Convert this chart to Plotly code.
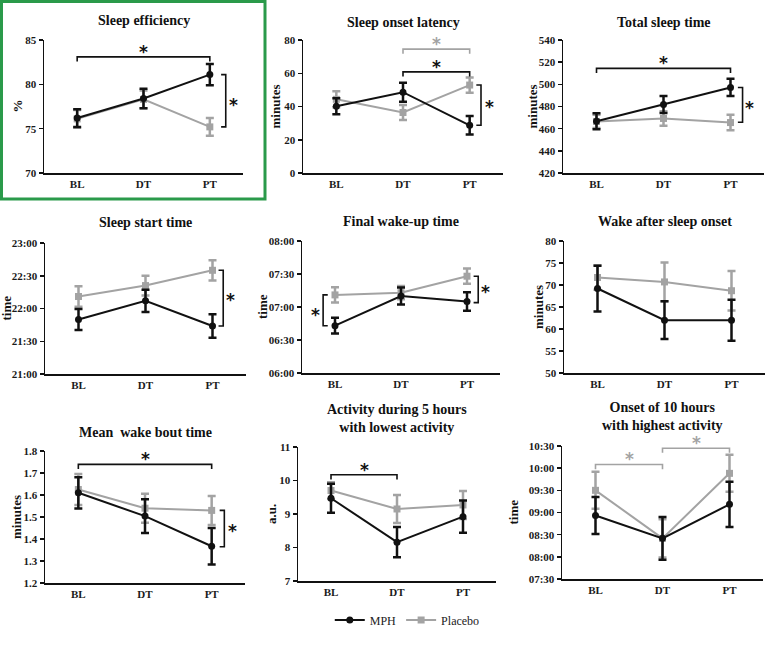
import plotly.graph_objects as go

W, H = 767, 651

categories = ["BL", "DT", "PT"]
x_pos = [0, 1, 2]

# ---- data (mean, error) ----
# 1 Sleep efficiency (%)
se_mph = [76.2, 78.4, 81.1]
se_mph_err = [1.0, 1.1, 1.2]
se_pla = [76.1, 78.3, 75.2]
se_pla_err = [1.0, 1.0, 1.0]
# 2 Sleep onset latency (minutes)
sol_mph = [40.2, 48.6, 28.7]
sol_mph_err = [4.8, 5.7, 5.6]
sol_pla = [44.3, 36.4, 52.9]
sol_pla_err = [4.8, 4.5, 4.6]
# 3 Total sleep time (minutes)
tst_mph = [466.7, 481.8, 497.2]
tst_mph_err = [7.2, 7.7, 7.8]
tst_pla = [466.5, 469.2, 465.5]
tst_pla_err = [6.0, 6.5, 7.0]
# 4 Sleep start time (clock time, error in minutes)
sst_mph = ["21:50", "22:07", "21:44"]
sst_mph_err = [9.6, 10.2, 10.8]
sst_pla = ["22:11", "22:21", "22:35"]
sst_pla_err = [9.3, 9.0, 9.3]
# 5 Final wake-up time
fwt_mph = ["06:43", "07:10", "07:05"]
fwt_mph_err = [7.2, 7.8, 8.4]
fwt_pla = ["07:11", "07:13", "07:28"]
fwt_pla_err = [6.9, 6.0, 6.9]
# 6 Wake after sleep onset (minutes)
waso_mph = [69.2, 62.0, 62.0]
waso_mph_err = [5.2, 4.3, 4.65]
waso_pla = [71.7, 70.7, 68.7]
waso_pla_err = [2.8, 4.4, 4.5]
# 7 Mean wake bout time (minutes)
wbt_mph = [1.61, 1.504, 1.367]
wbt_mph_err = [0.071, 0.077, 0.083]
wbt_pla = [1.625, 1.54, 1.53]
wbt_pla_err = [0.07, 0.066, 0.066]
# 8 Activity during L5 (a.u.)
l5_mph = [9.47, 8.16, 8.92]
l5_mph_err = [0.43, 0.45, 0.48]
l5_pla = [9.70, 9.15, 9.27]
l5_pla_err = [0.25, 0.42, 0.42]
# 9 Onset of M10 (clock time)
m10_mph = ["08:56", "08:25", "09:11"]
m10_mph_err = [25, 29, 30.5]
m10_pla = ["09:30", "08:25", "09:53"]
m10_pla_err = [25, 26, 25]

titles = ["Sleep efficiency", "Sleep onset latency", "Total sleep time",
          "Sleep start time", "Final wake-up time", "Wake after sleep onset",
          "Mean  wake bout time", "Activity during 5 hours<br>with lowest activity",
          "Onset of 10 hours<br>with highest activity"]
ytitles = ["%", "minutes", "minutes", "time", "time", "minutes", "minutes", "a.u.", "time"]

ticks_se = [70, 75, 80, 85]
ticks_sol = [0, 20, 40, 60, 80]
ticks_tst = [420, 440, 460, 480, 500, 520, 540]
ticks_sst = ["21:00", "21:30", "22:00", "22:30", "23:00"]
ticks_fwt = ["06:00", "06:30", "07:00", "07:30", "08:00"]
ticks_waso = [50, 55, 60, 65, 70, 75, 80]
ticks_wbt = [1.2, 1.3, 1.4, 1.5, 1.6, 1.7, 1.8]
ticks_l5 = [7, 8, 9, 10, 11]
ticks_m10 = ["07:30", "08:00", "08:30", "09:00", "09:30", "10:00", "10:30"]


def hrs(t):
    h, m = t.split(":")
    return int(h) + int(m) / 60.0


def hrs_list(lst):
    return [hrs(t) for t in lst]


def err_h(lst):
    return [e / 60.0 for e in lst]


panels = [
    dict(mph=se_mph, me=se_mph_err, pla=se_pla, pe=se_pla_err, tv=ticks_se, tt=[str(v) for v in ticks_se]),
    dict(mph=sol_mph, me=sol_mph_err, pla=sol_pla, pe=sol_pla_err, tv=ticks_sol, tt=[str(v) for v in ticks_sol]),
    dict(mph=tst_mph, me=tst_mph_err, pla=tst_pla, pe=tst_pla_err, tv=ticks_tst, tt=[str(v) for v in ticks_tst]),
    dict(mph=hrs_list(sst_mph), me=err_h(sst_mph_err), pla=hrs_list(sst_pla), pe=err_h(sst_pla_err),
         tv=hrs_list(ticks_sst), tt=ticks_sst),
    dict(mph=hrs_list(fwt_mph), me=err_h(fwt_mph_err), pla=hrs_list(fwt_pla), pe=err_h(fwt_pla_err),
         tv=hrs_list(ticks_fwt), tt=ticks_fwt),
    dict(mph=waso_mph, me=waso_mph_err, pla=waso_pla, pe=waso_pla_err, tv=ticks_waso, tt=[str(v) for v in ticks_waso]),
    dict(mph=wbt_mph, me=wbt_mph_err, pla=wbt_pla, pe=wbt_pla_err, tv=ticks_wbt, tt=["%.1f" % v for v in ticks_wbt]),
    dict(mph=l5_mph, me=l5_mph_err, pla=l5_pla, pe=l5_pla_err, tv=ticks_l5, tt=[str(v) for v in ticks_l5]),
    dict(mph=hrs_list(m10_mph), me=err_h(m10_mph_err), pla=hrs_list(m10_pla), pe=err_h(m10_pla_err),
         tv=hrs_list(ticks_m10), tt=ticks_m10),
]

# plot-area boxes in pixels: left, right, top, bottom
boxes = [
    (44, 243, 40, 173), (303, 503, 40, 173), (563, 764, 40, 173),
    (45, 246, 243, 374), (302, 500, 241, 373), (564, 765, 241, 373),
    (45, 245, 451, 583), (298, 496, 447, 581), (562, 763, 446, 579),
]
title_y = [21, 22, 22, 222, 221, 221, 432, 419, 416]
ytitle_x = [17, 275, 532, 6, 262, 538, 16, 271, 513]

BLACK = "#111111"
GRAY = "#a3a3a3"
FONT = "Liberation Serif"

# significance brackets
# horizontal: (panel, "h", from-category, to-category, level, colour, None)
# vertical:   (panel, "v", y-from, y-to, x-position, colour, (star x, star y))
brackets = [
    (0, "h", 0, 2, 83.1, BLACK, None),
    (0, "v", 81.1, 75.2, 2.24, BLACK, (2.36, 78.0)),
    (1, "h", 1, 2, 74.5, GRAY, None),
    (1, "h", 1, 2, 60.8, BLACK, None),
    (1, "v", 52.9, 28.7, 2.17, BLACK, (2.29, 41.2)),
    (2, "h", 0, 2, 514.4, BLACK, None),
    (2, "v", 497.2, 465.8, 2.18, BLACK, (2.29, 481.0)),
    (3, "v", hrs("22:35"), hrs("21:44"), 2.16, BLACK, (2.27, hrs("22:10"))),
    (4, "v", hrs("07:11"), hrs("06:43"), -0.18, BLACK, (-0.29, hrs("06:55"))),
    (4, "v", hrs("07:28"), hrs("07:04"), 2.17, BLACK, (2.28, hrs("07:16"))),
    (6, "h", 0, 2, 1.739, BLACK, None),
    (6, "v", 1.53, 1.365, 2.19, BLACK, (2.31, 1.447)),
    (7, "h", 0, 1, 10.17, BLACK, None),
    (8, "h", 0, 1, hrs("10:05"), GRAY, None),
    (8, "h", 1, 2, hrs("10:27"), GRAY, None),
]

fig = go.Figure()
layout = dict(
    width=W, height=H, margin=dict(l=0, r=0, t=0, b=0, pad=0, autoexpand=False),
    paper_bgcolor="white", plot_bgcolor="white",
    font=dict(family=FONT, color="#1a1a1a"),
    showlegend=True,
    legend=dict(orientation="h", x=0.531, y=1 - 620 / H, xanchor="center", yanchor="middle",
                font=dict(family=FONT, size=12, color="#222"), itemwidth=30,
                bgcolor="rgba(0,0,0,0)"),
)
annotations = []
shapes = []

for i, (p, box) in enumerate(zip(panels, boxes)):
    n = "" if i == 0 else str(i + 1)
    L, R, T, B = box
    xa, ya = "x" + n, "y" + n
    fig.add_trace(go.Scatter(
        x=x_pos, y=p["pla"], mode="lines+markers", name="Placebo",
        line=dict(color=GRAY, width=2), marker=dict(symbol="square", size=7, color=GRAY),
        error_y=dict(type="data", array=p["pe"], color=GRAY, thickness=2.5, width=4),
        xaxis=xa, yaxis=ya, showlegend=(i == 0), legendrank=2))
    fig.add_trace(go.Scatter(
        x=x_pos, y=p["mph"], mode="lines+markers", name="MPH",
        line=dict(color=BLACK, width=2), marker=dict(symbol="circle", size=7, color=BLACK),
        error_y=dict(type="data", array=p["me"], color=BLACK, thickness=2.5, width=4),
        xaxis=xa, yaxis=ya, showlegend=(i == 0), legendrank=1))
    layout["xaxis" + n] = dict(
        domain=[L / W, R / W], range=[-0.5, 2.5], anchor=ya,
        tickvals=x_pos, ticktext=categories, ticks="", showgrid=False, zeroline=False,
        showline=True, linecolor=BLACK, linewidth=1.5, fixedrange=True, automargin=False,
        tickfont=dict(family=FONT, size=11, color="#1a1a1a", weight="bold"))
    layout["yaxis" + n] = dict(
        domain=[1 - B / H, 1 - T / H], range=[p["tv"][0], p["tv"][-1]], anchor=xa,
        tickvals=p["tv"], ticktext=p["tt"], ticks="outside", ticklen=4, tickwidth=1.5,
        tickcolor=BLACK, showgrid=False, zeroline=False, automargin=False,
        showline=True, linecolor=BLACK, linewidth=1.5, fixedrange=True,
        tickfont=dict(family=FONT, size=11, color="#1a1a1a", weight="bold"))
    annotations.append(dict(
        text="<b>" + titles[i] + "</b>", x=(L + R) / 2 / W, y=1 - title_y[i] / H,
        xref="paper", yref="paper", showarrow=False, xanchor="center", yanchor="middle",
        font=dict(family=FONT, size=14, color="#111")))
    annotations.append(dict(
        text="<b>" + ytitles[i] + "</b>", x=ytitle_x[i] / W, y=1 - (T + B) / 2 / H,
        xref="paper", yref="paper", showarrow=False, textangle=-90,
        xanchor="center", yanchor="middle",
        font=dict(family=FONT, size=13, color="#111")))

for (pi, kind, a, b, lvl, col, star) in brackets:
    n = "" if pi == 0 else str(pi + 1)
    xr, yr = "x" + n, "y" + n
    tv = panels[pi]["tv"]
    span = tv[-1] - tv[0]
    if kind == "h":
        d = span * 0.035
        path = f"M {a},{lvl - d} L {a},{lvl} L {b},{lvl} L {b},{lvl - d}"
        sx, sy, ys = (a + b) / 2, lvl, 5
    else:
        dx = -0.07 if lvl > 1 else 0.07
        path = f"M {lvl + dx},{a} L {lvl},{a} L {lvl},{b} L {lvl + dx},{b}"
        sx, sy = star
        ys = -2.5
    shapes.append(dict(type="path", path=path, xref=xr, yref=yr,
                       line=dict(color=col, width=1.6)))
    annotations.append(dict(text="*", x=sx, y=sy, xref=xr, yref=yr, showarrow=False,
                            xanchor="center", yanchor="middle", yshift=ys,
                            font=dict(family="DejaVu Sans", size=17, color=col, weight="bold")))

# green frame around the first panel
shapes.append(dict(type="rect", xref="paper", yref="paper",
                   x0=1.5 / W, x1=265 / W, y0=1 - 199 / H, y1=1 - 1.5 / H,
                   line=dict(color="#2a9a4a", width=3)))

layout["annotations"] = annotations
layout["shapes"] = shapes
fig.update_layout(**layout)
fig.write_html("out.html", config={"displayModeBar": False, "staticPlot": True},
               post_script="document.body.style.margin='0';")
